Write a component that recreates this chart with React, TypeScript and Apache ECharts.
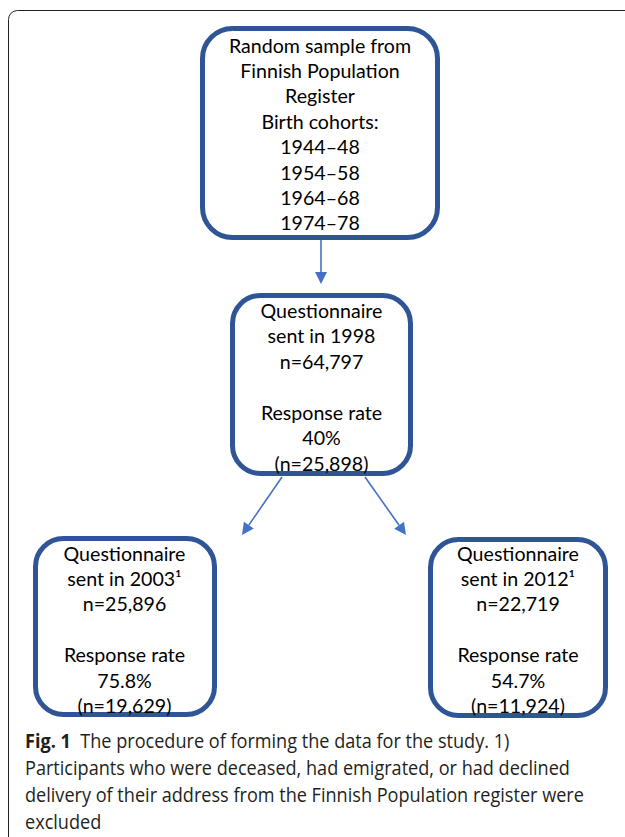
import React, { useEffect, useRef } from "react";
import * as echarts from "echarts";

// ---- content ----
const topBoxLines = [
  "Random sample from",
  "Finnish Population",
  "Register",
  "Birth cohorts:",
  "1944–48",
  "1954–58",
  "1964–68",
  "1974–78",
];
const midBoxLines = [
  "Questionnaire",
  "sent in 1998",
  "n=64,797",
  "",
  "Response rate",
  "40%",
  "(n=25,898)",
];
const leftBoxLines = [
  "Questionnaire",
  "sent in 2003¹",
  "n=25,896",
  "",
  "Response rate",
  "75.8%",
  "(n=19,629)",
];
const rightBoxLines = [
  "Questionnaire",
  "sent in 2012¹",
  "n=22,719",
  "",
  "Response rate",
  "54.7%",
  "(n=11,924)",
];
const captionLabel = "Fig. 1";
const captionLines = [
  "The procedure of forming the data for the study. 1)",
  "Participants who were deceased, had emigrated, or had declined",
  "delivery of their address from the Finnish Population register were",
  "excluded",
];

// ---- layout (kept apart from content) ----
const BOX_COLOR = "#2F5597";
const ARROW_COLOR = "#4472C4";
const BOX_FONT = "Lato";
const CAP_FONT = "Open Sans";

const boxLayouts = [
  { lines: topBoxLines, x: 202.5, y: 28.5, w: 235, h: 209, r: 30, cx: 320, firstY: 45, gap: 25.4 },
  { lines: midBoxLines, x: 232.5, y: 295.5, w: 178, h: 178, r: 28, cx: 321.5, firstY: 310, gap: 25.5 },
  { lines: leftBoxLines, x: 35.5, y: 538.5, w: 179, h: 176, r: 28, cx: 124.5, firstY: 553, gap: 25.4 },
  { lines: rightBoxLines, x: 430.5, y: 539.5, w: 175, h: 176, r: 28, cx: 518, firstY: 553, gap: 25.4 },
];

const arrows = [
  { from: [321, 240], to: [321, 284] },
  { from: [282, 477], to: [242, 535] },
  { from: [365, 477], to: [406, 535] },
];

function arrowElements(a: { from: number[]; to: number[] }) {
  const [x1, y1] = a.from;
  const [x2, y2] = a.to;
  const dx = x2 - x1;
  const dy = y2 - y1;
  const len = Math.sqrt(dx * dx + dy * dy);
  const ux = dx / len;
  const uy = dy / len;
  const headLen = 12;
  const headHalf = 6;
  const bx = x2 - ux * headLen;
  const by = y2 - uy * headLen;
  const px = -uy;
  const py = ux;
  return [
    {
      type: "line",
      shape: { x1, y1, x2: bx, y2: by },
      style: { stroke: ARROW_COLOR, lineWidth: 1.6 },
    },
    {
      type: "polygon",
      shape: {
        points: [
          [x2, y2],
          [bx + px * headHalf, by + py * headHalf],
          [bx - px * headHalf, by - py * headHalf],
        ],
      },
      style: { fill: ARROW_COLOR },
    },
  ];
}

export default function App() {
  const ref = useRef<HTMLDivElement>(null);
  useEffect(() => {
    if (!ref.current) return;
    const chart = echarts.init(ref.current, undefined, { renderer: "svg" });
    const elements: any[] = [];

    // outer frame
    elements.push({
      type: "rect",
      shape: { x: 8.5, y: 10.5, width: 700, height: 900, r: [9, 0, 0, 0] },
      style: { fill: "none", stroke: "#222", lineWidth: 1 },
    });

    boxLayouts.forEach((b) => {
      elements.push({
        type: "rect",
        shape: { x: b.x, y: b.y, width: b.w, height: b.h, r: b.r },
        style: { fill: "#fff", stroke: BOX_COLOR, lineWidth: 5 },
      });
      b.lines.forEach((t, i) => {
        if (!t) return;
        elements.push({
          type: "text",
          x: b.cx,
          y: b.firstY + i * b.gap,
          style: {
            text: t,
            fontFamily: BOX_FONT,
            fontSize: 19.6,
            fill: "#000",
            align: "center",
            verticalAlign: "middle",
          },
          z: 10,
        });
      });
    });

    arrows.forEach((a) => arrowElements(a).forEach((e) => elements.push(e)));

    captionLines.forEach((t, i) => {
      elements.push({
        type: "text",
        x: 25,
        y: 741 + i * 26.8,
        scaleX: 0.905,
        style: {
          text: i === 0 ? `{b|${captionLabel}}  ${t}` : t,
          fontFamily: CAP_FONT,
          fontSize: 20,
          fill: "#231f20",
          align: "left",
          verticalAlign: "middle",
          rich: {
            b: { fontFamily: CAP_FONT, fontSize: 20, fontWeight: "bold", fill: "#231f20" },
          },
        },
      });
    });

    chart.setOption({
      animation: false,
      backgroundColor: "#fff",
      graphic: { elements },
    });
    return () => chart.dispose();
  }, []);
  return (
    <div
      ref={ref}
      style={{ position: "fixed", left: 0, top: 0, width: 625, height: 837 }}
    />
  );
}
